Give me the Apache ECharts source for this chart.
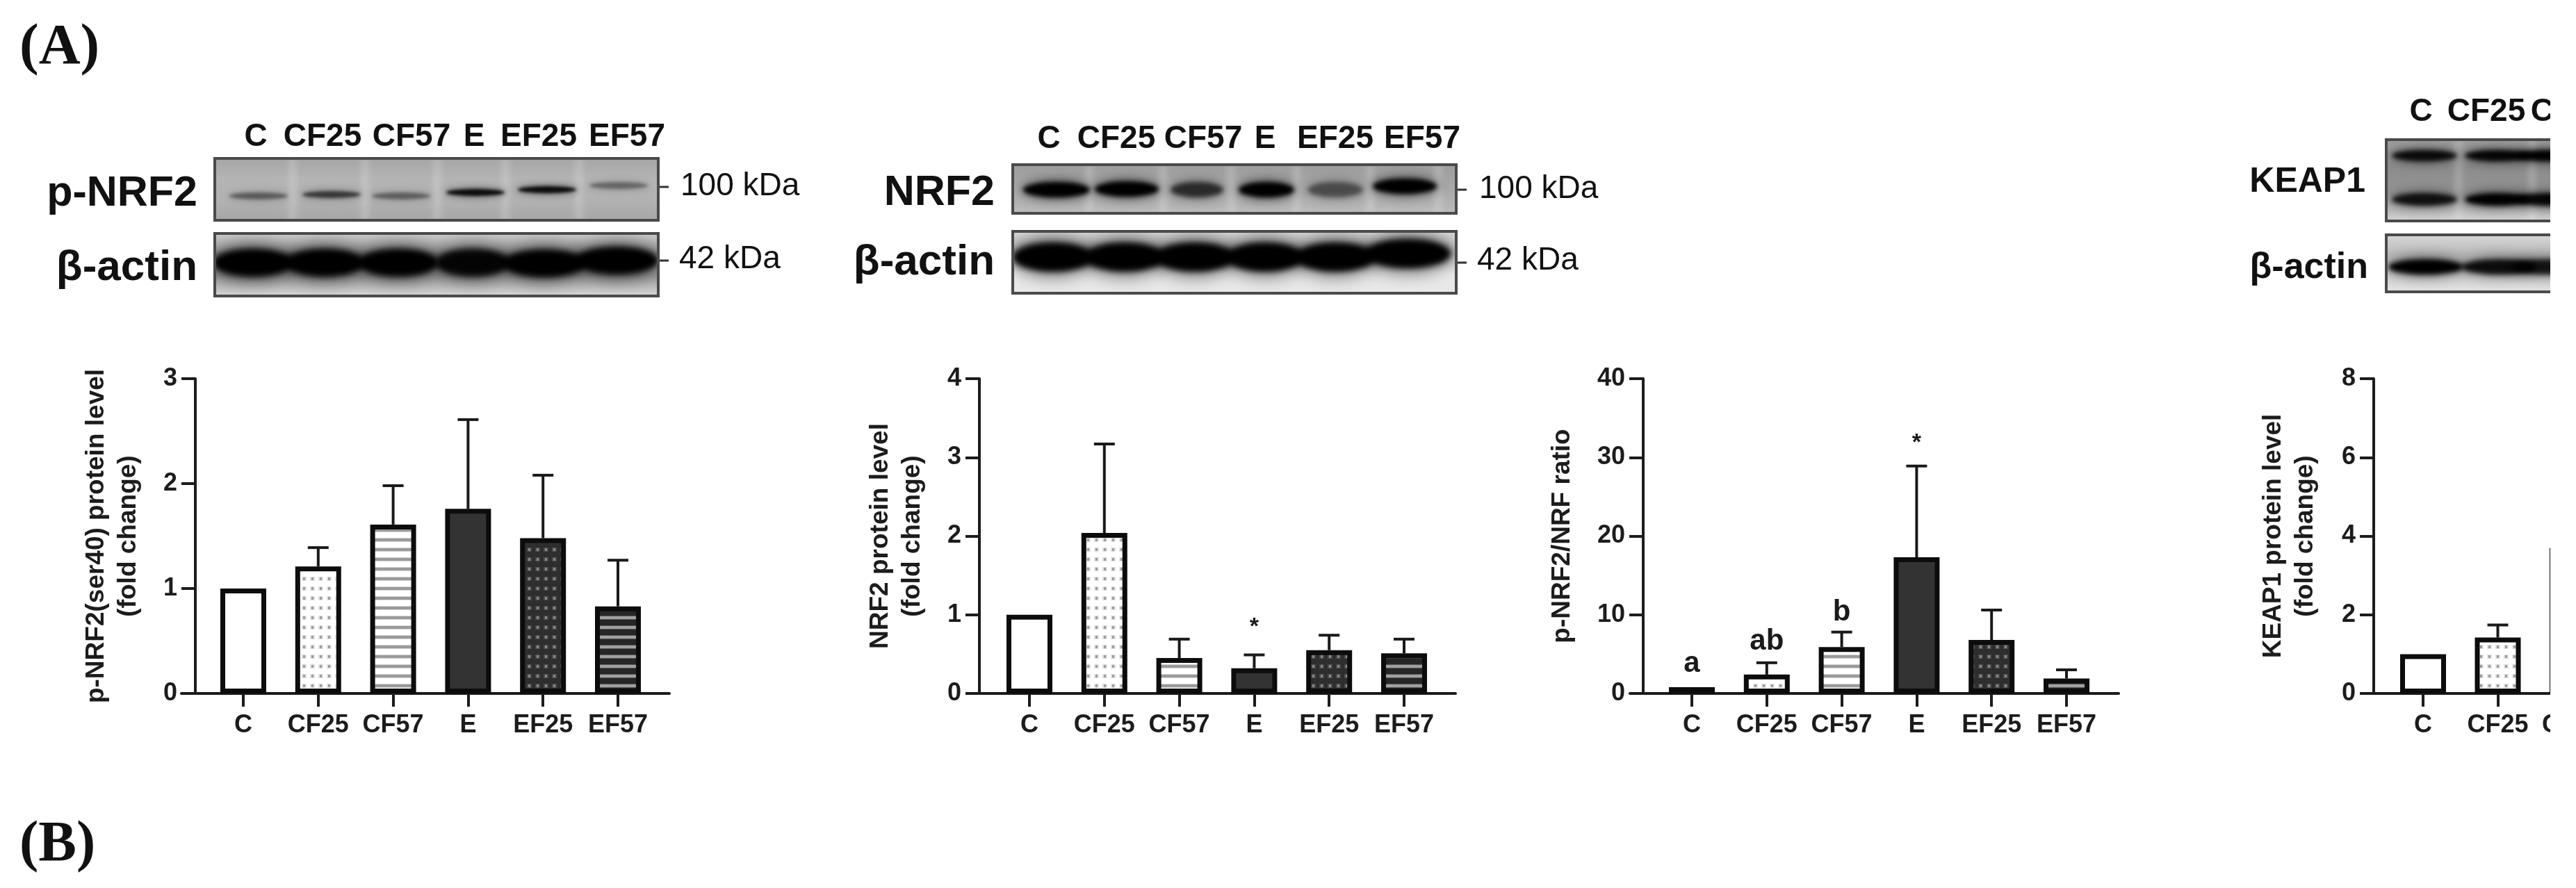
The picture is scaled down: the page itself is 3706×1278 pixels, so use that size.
<!DOCTYPE html>
<html><head><meta charset="utf-8">
<style>html,body{margin:0;padding:0;background:#fff;overflow:hidden}#c{width:3800px;height:1278px}#w{width:3706px;height:1278px;overflow:hidden}</style>
<script src="https://cdn.jsdelivr.net/npm/echarts@6/dist/echarts.min.js"></script>
</head><body><div id="w"><div id="c"></div></div>
<script>
// ---------- data ----------
const categories = ['C','CF25','CF57','E','EF25','EF57'];
const keapCategories = ['C','CF25','CF57'];

const pNrf2Values = [1.0,1.21,1.61,1.76,1.48,0.83];
const pNrf2ErrTop = [null,1.39,1.98,2.61,2.08,1.27];
const nrf2Values  = [1.0,2.04,0.45,0.32,0.55,0.51];
const nrf2ErrTop  = [null,3.17,0.69,0.49,0.74,0.69];
const ratioValues = [0.8,2.4,5.9,17.3,6.8,1.9];
const ratioErrTop = [null,3.9,7.8,28.9,10.6,3.0];
const keapValues  = [1.0,1.42,3.7];
const keapErrTop  = [null,1.74,null];

const nrf2Notes  = [[3,0.84,'*']];
const ratioNotes = [[0,3.8,'a'],[1,6.6,'ab'],[2,10.3,'b'],[3,31.8,'*']];

const pNrf2BandStrength = [.4,.6,.38,.9,.9,.35];
const actin1Strength    = [1,1,1,.95,1,1];
const nrf2BandStrength  = [1,1,.65,1,.45,1];
const actin2Strength    = [1,1,1,1,1,1];
const keapUpperStrength = [.9,.95,1];
const keapLowerStrength = [.85,1,.95];
const actin3Strength    = [1,.9,.85];

// ---------- patterns ----------
function tile(w,h,bg,draw){
  const c=document.createElement('canvas');c.width=w;c.height=h;
  const x=c.getContext('2d');x.fillStyle=bg;x.fillRect(0,0,w,h);draw(x);return c;
}
const dots=(bg,fg,soft)=>({image:tile(12,14,bg,x=>{x.fillStyle=soft;x.fillRect(2,4,7,6);x.fillStyle=fg;x.fillRect(4,5,3,4);}),repeat:'repeat'});
const stripes=(bg,fg,soft)=>({image:tile(14,14,bg,x=>{x.fillStyle=soft;x.fillRect(0,4,14,6);x.fillStyle=fg;x.fillRect(0,5,14,4);}),repeat:'repeat'});
const fills=['#ffffff',dots('#ffffff','#9c9c9c','#e2e2e2'),stripes('#ffffff','#9a9a9a','#d5d5d5'),'#333333',dots('#2e2e2e','#8a8a8a','#4a4a4a'),stripes('#262626','#a0a0a0','#555555')];

// ---------- charts ----------
const FONT='"Liberation Sans"';
const INK='#1c1c1c';
const panels=[
 {name:'p-NRF2(ser40) protein level\n(fold change)',cats:categories,vals:pNrf2Values,err:pNrf2ErrTop,notes:[],max:3,step:1,axisX:281,first:350,gap:107.8,lineA:261,lineB:963,nameGap:73},
 {name:'NRF2 protein level\n(fold change)',cats:categories,vals:nrf2Values,err:nrf2ErrTop,notes:nrf2Notes,max:4,step:1,axisX:1409,first:1481,gap:107.8,lineA:1392,lineB:2094,nameGap:73},
 {name:'p-NRF2/NRF ratio',cats:categories,vals:ratioValues,err:ratioErrTop,notes:ratioNotes,max:40,step:10,axisX:2364,first:2434,gap:107.8,lineA:2345,lineB:3048,nameGap:93},
 {name:'KEAP1 protein level\n(fold change)',cats:keapCategories,vals:keapValues,err:keapErrTop,notes:[],max:8,step:2,axisX:3415,first:3486,gap:107.5,lineA:3397,lineB:3720,nameGap:75}
];
const TOP=545,H=453;
const grid=[],xAxis=[],yAxis=[],series=[];
panels.forEach(p=>{
  const left=p.first-p.gap/2, gi=grid.length;
  grid.push({left,top:TOP,width:p.gap*p.cats.length,height:H,containLabel:false});
  xAxis.push({type:'category',gridIndex:gi,data:p.cats,
    axisLine:{show:false},
    axisTick:{show:true,alignWithLabel:true,length:19,lineStyle:{width:4,color:INK}},
    axisLabel:{show:true,interval:0,margin:28,hideOverlap:false,fontFamily:FONT,fontWeight:'bold',fontSize:36,color:INK}});
  yAxis.push({type:'value',gridIndex:gi,min:0,max:p.max,interval:p.step,offset:left-p.axisX,
    name:p.name,nameLocation:'middle',nameRotate:90,nameGap:p.nameGap,nameMoveOverlap:false,
    nameTextStyle:{fontFamily:FONT,fontWeight:'bold',fontSize:37,lineHeight:46,color:INK},
    splitLine:{show:false},
    axisLine:{show:true,lineStyle:{width:4,color:INK}},
    axisTick:{show:true,length:20,lineStyle:{width:4,color:INK}},
    axisLabel:{show:true,margin:26,fontFamily:FONT,fontWeight:'bold',fontSize:36,color:INK}});
  series.push({type:'bar',xAxisIndex:gi,yAxisIndex:gi,barWidth:66,silent:true,z:3,
    data:p.vals.map((v,i)=>({value:v,itemStyle:{color:fills[i],borderColor:'#0c0c0c',borderWidth:7}}))});
  series.push({type:'custom',xAxisIndex:gi,yAxisIndex:gi,silent:true,z:2,clip:false,
    data:p.vals.map((v,i)=>[i,v,p.err[i]]),
    renderItem:(params,api)=>{
      if(isNaN(api.value(2))||api.value(2)===null) return null;
      const a=api.coord([api.value(0),api.value(1)]),b=api.coord([api.value(0),api.value(2)]);
      const s={stroke:'#1a1a1a',lineWidth:4};
      return {type:'group',children:[
        {type:'line',shape:{x1:a[0],y1:a[1],x2:b[0],y2:b[1]},style:s},
        {type:'line',shape:{x1:b[0]-15,y1:b[1],x2:b[0]+15,y2:b[1]},style:s}]};
    }});
  if(p.notes.length) series.push({type:'custom',xAxisIndex:gi,yAxisIndex:gi,silent:true,z:4,clip:false,
    data:p.notes,
    renderItem:(params,api)=>{
      const t=p.notes[params.dataIndex], c=api.coord([t[0],t[1]]);
      return {type:'text',x:c[0],y:c[1],style:{text:t[2],font:'bold '+(t[2]==='*'?34:42)+'px '+FONT,textAlign:'center',textVerticalAlign:'middle',fill:'#1a1a1a'}};
    }});
  // helper grid: only carries the long baseline, which overshoots the bars' band on both sides
  const hi=grid.length;
  grid.push({left:p.lineA,top:TOP,width:p.lineB-p.lineA,height:H});
  xAxis.push({type:'value',gridIndex:hi,min:0,max:1,axisLine:{show:true,onZero:false,lineStyle:{width:4,color:INK}},axisTick:{show:false},axisLabel:{show:false},splitLine:{show:false}});
  yAxis.push({type:'value',gridIndex:hi,min:0,max:1,show:false});
});

// ---------- western blot panels (pictures, painted once onto canvases) ----------
function blot(w,h,o){
  const c=document.createElement('canvas');c.width=w;c.height=h;
  const x=c.getContext('2d');
  const g=x.createLinearGradient(0,0,0,h);
  o.bg.forEach((s,i)=>g.addColorStop(i/(o.bg.length-1),s));
  x.fillStyle=g;x.fillRect(0,0,w,h);
  x.filter='blur(5px)';
  (o.seams||[]).forEach(sx=>{x.fillStyle='rgba(255,255,255,.22)';x.fillRect(sx-5,0,10,h);});
  o.bands.forEach(b=>{
    // soft halo, then the dense core
    x.filter='blur('+(b.blur*2.4)+'px)';
    x.fillStyle='rgba(0,0,0,'+(b.k*.45)+')';
    x.beginPath();x.ellipse(b.x,b.y,b.hw*1.05,b.ht*1.4,0,0,Math.PI*2);x.fill();
    x.filter='blur('+b.blur+'px)';
    x.fillStyle='rgba(0,0,0,'+b.k+')';
    x.beginPath();x.ellipse(b.x,b.y,b.hw,b.ht,0,0,Math.PI*2);x.fill();
  });
  x.filter='none';
  x.strokeStyle='#4a4a4a';x.lineWidth=5;x.strokeRect(1.5,1.5,w-3,h-3);
  return c;
}
const mk=(xs,ys,hws,ht,blur,ks)=>xs.map((bx,i)=>({x:bx,y:Array.isArray(ys)?ys[i]:ys,hw:Array.isArray(hws)?hws[i]:hws,ht,blur,k:ks[i]}));
const blots=[
 {x:307,y:226,w:642,h:93,bg:['#a4a4a4','#b4b4b4','#b2b2b2','#a6a6a6'],seams:[114,218,322,420,526],
  bands:mk([65,170,270,377,480,583],[56,54,56,51,47,41],42,5,2.2,pNrf2BandStrength)},
 {x:307,y:334,w:642,h:94,bg:['#d0d0d0','#a0a0a0','#9a9a9a','#dcdcdc'],seams:[],
  bands:mk([57,160,266,373,476,580],[44,44,44,44,45,41],[58,58,58,54,60,60],20,4.5,actin1Strength)},
 {x:1455,y:235,w:642,h:74,bg:['#9c9c9c','#a8a8a8','#bcbcbc'],seams:[112,218,316,410,516,614],
  bands:mk([65,166,267,367,466,566],[38,37,38,38,38,33],[48,46,38,40,40,46],11,3,nrf2BandStrength)},
 {x:1455,y:331,w:642,h:93,bg:['#dcdcdc','#c0c0c0','#e8e8e8','#e8e8e8'],seams:[],
  bands:mk([60,163,264,365,466,570],[39,39,39,39,39,34],[58,58,58,56,58,62],21,4.5,actin2Strength)},
 {x:3431,y:199,w:300,h:121,bg:['#a0a0a0','#8c8c8c','#949494','#d6d6d6'],seams:[106,212],
  bands:[...mk([57,162,236],25,47,8,3,keapUpperStrength),...mk([57,162,236],88,47,9,3,keapLowerStrength)]},
 {x:3431,y:336,w:300,h:86,bg:['#d8d8d8','#bcbcbc','#d0d0d0','#e4e4e4'],seams:[],
  bands:mk([59,164,236],48,[54,54,54],11,3.5,actin3Strength)}
];
const gfx=blots.map(b=>({type:'image',x:b.x,y:b.y,z:1,silent:true,style:{image:blot(b.w,b.h,b),width:b.w,height:b.h}}));
const t=(text,x,y,font,align)=>({type:'text',x,y,z:5,silent:true,style:{text,font,textAlign:align||'center',textVerticalAlign:'middle',fill:'#111'}});
const lane='bold 46px '+FONT, big='bold 61px '+FONT, mw='46px '+FONT;
const tick=(x,y)=>({type:'line',z:5,silent:true,shape:{x1:x,y1:y,x2:x+13,y2:y},style:{stroke:'#333',lineWidth:3}});
[[ [368,464,592,682,775,902],197],[[1509,1606,1731,1820,1921,2046],200]].forEach(([xs,y])=>{
  categories.forEach((c,i)=>gfx.push(t(c,xs[i],y,lane)));
});
keapCategories.forEach((c,i)=>gfx.push(t(c,[3483,3577,3697][i],161,lane)));
gfx.push(t('p-NRF2',284,279,big,'right'),t('β-actin',284,386,'bold 62px '+FONT,'right'),
         t('NRF2',1431,278,big,'right'),t('β-actin',1431,378,'bold 62px '+FONT,'right'),
         t('KEAP1',3403,262,'bold 50px '+FONT,'right'),t('β-actin',3407,386,'bold 52px '+FONT,'right'),
         t('100 kDa',979,268,mw,'left'),t('42 kDa',977,373,mw,'left'),
         t('100 kDa',2128,272,mw,'left'),t('42 kDa',2125,375,mw,'left'),
         tick(949,269),tick(949,375),tick(2097,273),tick(2097,378),
         t('(A)',28,70,'bold 83px "Liberation Serif"','left'),
         t('(B)',28,1217,'bold 82px "Liberation Serif"','left'));
// the figure is cropped on its right side
gfx.push({type:'rect',z:1000,silent:true,shape:{x:3669,y:0,width:140,height:1278},style:{fill:'#fff'}});

const chart=echarts.init(document.getElementById('c'),null,{width:3800,height:1278,renderer:'canvas'});
chart.setOption({animation:false,backgroundColor:'#fff',grid,xAxis,yAxis,series,graphic:{elements:gfx}});
</script></body></html>
